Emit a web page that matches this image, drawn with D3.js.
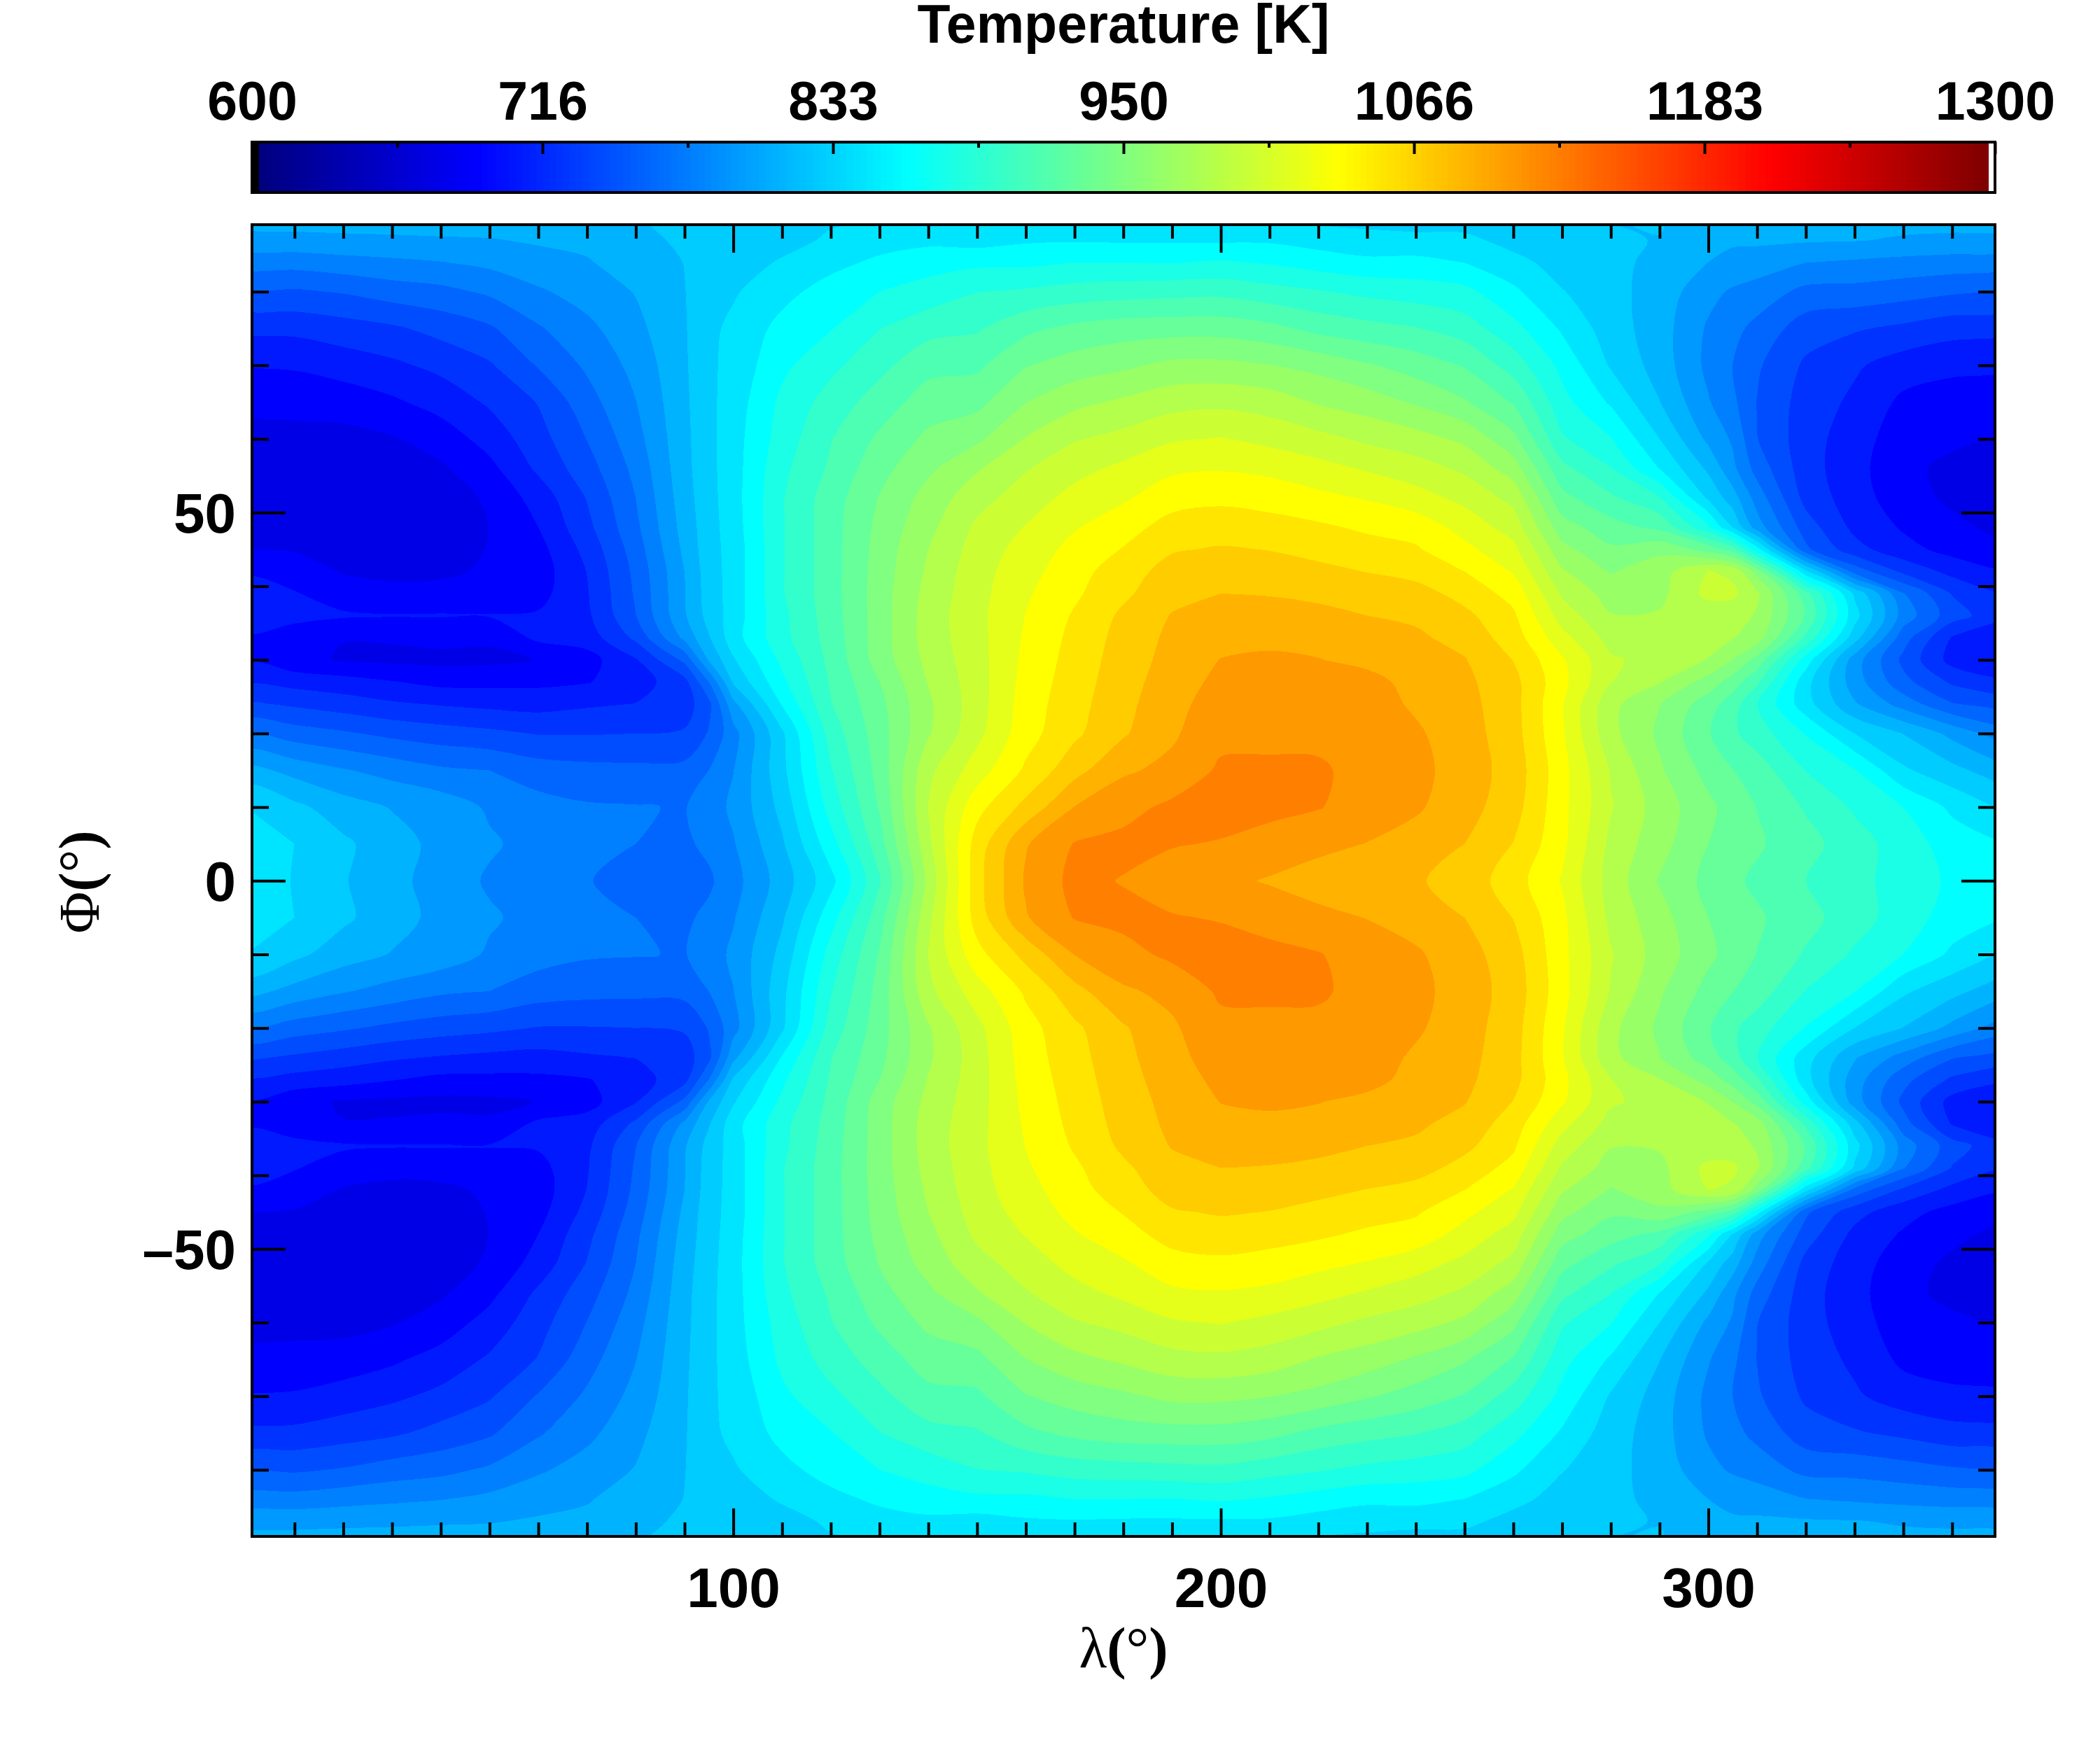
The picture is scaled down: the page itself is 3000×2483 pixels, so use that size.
<!DOCTYPE html>
<html>
<head>
<meta charset="utf-8">
<script src="https://cdnjs.cloudflare.com/ajax/libs/d3/7.8.5/d3.min.js"></script>
<style>
html, body { margin: 0; padding: 0; background: #fff; }
svg { display: block; }
text { font-family: "Liberation Sans", Arial, sans-serif; font-weight: bold; fill: #000; }
.greek { font-family: "Liberation Serif", serif; font-weight: normal; }
.greek .paren { font-weight: bold; }
</style>
</head>
<body>
<div id="chart"></div>
<script>
// latitude rows of the north half (the map is mirrored about the equator)
var lats = [0,5,10,15,20,24,27,30,33,36,39,42,45,48,52,56,60,65,70,75,80,84,87,90];
var lons = [0,10,20,30,40,50,60,70,80,90,95,100,110,120,130,140,150,160,170,180,190,200,210,220,230,240,250,260,270,280,290,300,305,310,320,330,340,350,360];

// temperature in K, one list per longitude, in the order of lats
var t000 = [856,853,845,817,774,743,720,704,702,720,713,703,688,680,677,677,682,691,706,726,755,783,803,818];
var t010 = [844,845,832,804,766,737,716,692,694,711,706,698,686,680,677,677,682,693,707,727,755,782,805,818];
var t020 = [829,831,818,794,760,731,712,686,688,707,698,686,678,672,672,675,682,695,713,732,759,786,806,819];
var t030 = [815,817,809,786,753,725,706,684,689,706,694,682,674,670,672,677,686,702,719,737,766,789,807,819];
var t040 = [803,805,803,778,748,721,700,683,692,706,696,683,675,672,676,685,695,712,727,746,770,792,808,820];
var t050 = [790,795,790,775,744,718,700,684,690,706,695,691,689,688,691,700,712,725,738,755,778,797,809,820];
var t060 = [783,786,782,766,739,716,701,688,709,707,699,696,699,705,712,726,733,741,759,773,790,804,812,822];
var t070 = [776,778,777,763,739,720,704,698,713,719,721,723,728,735,741,750,758,768,778,788,800,809,813,824];
var t080 = [768,775,776,762,740,723,714,721,744,757,760,762,766,771,775,780,786,792,798,805,811,816,820,826];
var t090 = [769,772,774,763,742,731,734,762,797,808,809,810,814,817,820,822,823,824,825,826,827,828,832,834];
var t095 = [772,779,784,775,759,753,775,812,826,834,836,837,838,838,839,840,840,841,842,841,838,834,834,838];
var t100 = [786,791,796,792,786,805,830,843,855,853,852,852,852,854,855,855,855,853,850,849,843,836,835,839];
var t110 = [818,825,833,840,842,864,876,884,892,893,896,896,896,896,896,893,888,884,876,868,857,847,838,838];
var t120 = [857,873,887,896,905,914,917,920,922,924,925,925,925,925,924,918,914,905,893,879,870,857,848,842];
var t130 = [913,925,934,939,942,945,950,958,959,959,959,958,957,955,951,944,936,923,910,897,880,866,855,845];
var t140 = [990,998,1003,998,983,982,986,990,993,993,991,988,985,980,974,964,954,941,927,909,887,873,858,845];
var t150 = [1066,1063,1049,1029,1015,1012,1012,1013,1014,1015,1014,1013,1010,1006,996,983,964,945,929,913,897,876,855,843];
var t160 = [1110,1106,1078,1058,1048,1046,1044,1042,1040,1038,1035,1031,1027,1021,1011,1001,986,967,949,928,900,876,860,843];
var t170 = [1130,1126,1108,1084,1069,1066,1064,1062,1060,1057,1052,1048,1043,1036,1026,1014,1001,980,958,937,905,880,861,843];
var t180 = [1124,1130,1119,1105,1088,1085,1083,1081,1079,1076,1069,1065,1056,1048,1035,1024,1008,988,964,942,907,880,860,843];
var t190 = [1118,1126,1129,1112,1105,1102,1099,1096,1094,1091,1085,1079,1071,1062,1048,1034,1018,996,972,943,909,879,860,845];
var t200 = [1112,1124,1131,1128,1120,1116,1112,1108,1102,1097,1090,1082,1074,1065,1051,1036,1021,998,972,943,910,882,860,845];
var t210 = [1106,1118,1130,1128,1121,1117,1113,1110,1104,1097,1089,1080,1072,1062,1048,1033,1015,994,968,938,904,878,860,845];
var t220 = [1100,1112,1126,1128,1120,1118,1115,1108,1103,1095,1086,1077,1067,1058,1042,1026,1008,983,962,927,899,872,855,840];
var t230 = [1096,1107,1117,1118,1118,1115,1112,1104,1098,1090,1082,1072,1062,1052,1036,1018,999,976,952,921,893,867,850,840];
var t240 = [1092,1100,1110,1113,1110,1105,1103,1098,1093,1087,1080,1066,1057,1048,1027,1010,992,965,942,916,889,868,849,838];
var t250 = [1083,1090,1097,1099,1098,1096,1094,1091,1084,1077,1066,1055,1042,1031,1015,999,981,952,931,906,885,862,850,835];
var t260 = [1063,1072,1080,1083,1080,1079,1078,1072,1064,1058,1049,1036,1025,1012,997,976,955,931,907,886,866,851,838,832];
var t270 = [1036,1042,1043,1044,1040,1039,1043,1040,1026,1012,1000,987,973,958,938,920,900,886,875,860,846,837,831,828];
var t280 = [995,998,1004,1001,990,990,1003,1005,996,986,978,966,953,940,918,898,881,860,843,836,833,831,829,827];
var t290 = [966,974,977,970,964,968,986,996,990,987,980,978,963,928,899,862,845,828,820,818,820,824,827,829];
var t300 = [945,950,954,944,934,941,960,984,992,990,1008,1003,943,884,842,824,806,794,788,790,798,810,813,815];
var t305 = [936,939,943,933,918,923,942,967,986,993,1006,999,925,844,818,797,790,779,775,780,790,806,812,813];
var t310 = [929,935,932,924,906,898,918,944,976,983,988,960,870,801,785,768,758,757,760,770,785,802,813,812];
var t320 = [915,921,913,897,879,852,851,872,911,931,922,850,761,749,734,730,730,732,737,748,770,793,812,810];
var t330 = [903,905,895,881,845,812,801,801,835,852,842,768,729,718,713,711,713,719,725,742,769,790,811,815];
var t340 = [890,889,880,848,827,785,763,753,765,785,776,736,711,703,695,692,695,701,714,736,765,787,808,817];
var t350 = [877,872,859,833,805,759,737,716,721,748,739,717,699,692,684,683,691,697,709,729,760,785,806,818];
var t360 = [866,864,843,817,783,749,725,707,705,728,723,706,691,683,678,679,686,695,708,727,757,783,805,818];

var byLon = [t000,t010,t020,t030,t040,t050,t060,t070,t080,t090,t095,t100,t110,t120,t130,t140,t150,t160,t170,t180,t190,t200,t210,t220,t230,t240,t250,t260,t270,t280,t290,t300,t305,t310,t320,t330,t340,t350,t360];

var colorbarLabels = ["600","716","833","950","1066","1183","1300"];
var tempMin = 600, tempMax = 1300, nLevels = 40;

var width = 3000, height = 2483;
var plot = {left: 360, right: 2850, top: 321, bottom: 2195};
var bar = {top: 203, bottom: 275, colorLeft: 370, colorRight: 2840};

var svg = d3.select("#chart").append("svg")
    .attr("width", width)
    .attr("height", height);

var x = d3.scaleLinear().domain([100, 300]).range([1047.6, 2440.5]);
var y = d3.scaleLinear().domain([50, 0]).range([732.3, 1258.3]);

var jet = d3.scaleLinear()
    .domain([0, 0.125, 0.375, 0.625, 0.875, 1])
    .range(["#000080", "#0000ff", "#00ffff", "#ffff00", "#ff0000", "#800000"]);

// whole globe grid, south pole first
var allLats = lats.slice(1).reverse().map(function (d) { return -d; }).concat(lats);
var nx = lons.length, ny = allLats.length;
var values = [];
allLats.forEach(function (lat) {
    var row = lats.indexOf(Math.abs(lat));
    byLon.forEach(function (col) { values.push(col[row]); });
});

// d3.contours puts cell i at i+0.5, the grid is not even so go through a scale
var lonAt = d3.scaleLinear().domain(lons.map(function (d, i) { return i + 0.5; })).range(lons);
var latAt = d3.scaleLinear().domain(allLats.map(function (d, i) { return i + 0.5; })).range(allLats);
var ringLine = d3.line()
    .x(function (p) { return x(lonAt(p[0])); })
    .y(function (p) { return y(latAt(p[1])); })
    .curve(d3.curveCatmullRomClosed.alpha(0.5));

function contourPath(d) {
    return d.coordinates.map(function (polygon) {
        return polygon.map(function (ring) { return ringLine(ring.slice(0, -1)); }).join("");
    }).join("");
}

var step = (tempMax - tempMin) / nLevels;
var levels = d3.range(nLevels).map(function (i) { return tempMin + i * step; });
var contours = d3.contours().size([nx, ny]).thresholds(levels)(values);

svg.append("clipPath").attr("id", "plot-clip")
    .append("rect")
    .attr("x", plot.left).attr("y", plot.top)
    .attr("width", plot.right - plot.left).attr("height", plot.bottom - plot.top);

svg.append("g")
    .attr("clip-path", "url(#plot-clip)")
    .selectAll("path")
    .data(contours)
    .enter()
    .append("path")
    .attr("d", contourPath)
    .attr("fill", function (d, i) { return jet(i / nLevels); })
    .attr("fill-rule", "evenodd")
    .attr("shape-rendering", "crispEdges");

// colour bar
var barX = d3.scaleLinear().domain([0, 1]).range([bar.colorLeft, bar.colorRight]);
svg.append("g")
    .selectAll("rect")
    .data(d3.range(256))
    .enter()
    .append("rect")
    .attr("x", function (d) { return barX(d / 256); })
    .attr("y", bar.top)
    .attr("width", function (d) { return barX((d + 1) / 256) - barX(d / 256) + 0.5; })
    .attr("height", bar.bottom - bar.top)
    .attr("fill", function (d) { return jet(d / 255); })
    .attr("shape-rendering", "crispEdges");

svg.append("rect")
    .attr("x", plot.left).attr("y", bar.top)
    .attr("width", bar.colorLeft - plot.left).attr("height", bar.bottom - bar.top)
    .attr("fill", "#000");

var barScale = d3.scaleLinear().domain([tempMin, tempMax]).range([plot.left, plot.right]);
var barMajor = colorbarLabels.map(function (d, i) { return tempMin + i * (tempMax - tempMin) / 6; });
var barMinor = d3.range(1, 12, 2).map(function (i) { return tempMin + i * (tempMax - tempMin) / 12; });

function plainAxis(g, axis) {
    g.call(axis);
    g.select(".domain").remove();
    g.selectAll("line").attr("stroke", "#000").attr("stroke-width", 4);
    g.selectAll("text").attr("font-family", null).attr("fill", null);
    g.attr("font-family", null).attr("font-size", null);
}

svg.append("g").attr("transform", "translate(0," + bar.top + ")")
    .call(plainAxis, d3.axisTop(barScale).tickValues(barMinor).tickSize(-8).tickFormat(""));
var barTop = svg.append("g").attr("transform", "translate(0," + bar.top + ")");
barTop.call(plainAxis, d3.axisTop(barScale).tickValues(barMajor).tickSize(-17).tickPadding(32)
    .tickFormat(function (d, i) { return colorbarLabels[i]; }));
barTop.selectAll("text").style("font-size", "77px").attr("dy", 0);

svg.append("rect")
    .attr("x", plot.left).attr("y", bar.top)
    .attr("width", plot.right - plot.left).attr("height", bar.bottom - bar.top)
    .attr("fill", "none").attr("stroke", "#000").attr("stroke-width", 4);

// map axes, short ticks first and then the labelled ones
var xMinor = d3.range(10, 360, 10).filter(function (d) { return d % 100 !== 0; });
var yMinor = d3.range(-80, 90, 10).filter(function (d) { return d % 50 !== 0; });
var xMajor = [100, 200, 300], yMajor = [-50, 0, 50];

svg.append("g").attr("transform", "translate(0," + plot.top + ")")
    .call(plainAxis, d3.axisTop(x).tickValues(xMinor).tickSize(-20).tickFormat(""));
svg.append("g").attr("transform", "translate(0," + plot.top + ")")
    .call(plainAxis, d3.axisTop(x).tickValues(xMajor).tickSize(-40).tickFormat(""));
svg.append("g").attr("transform", "translate(0," + plot.bottom + ")")
    .call(plainAxis, d3.axisBottom(x).tickValues(xMinor).tickSize(-20).tickFormat(""));
var xAxis = svg.append("g").attr("transform", "translate(0," + plot.bottom + ")");
xAxis.call(plainAxis, d3.axisBottom(x).tickValues(xMajor).tickSize(-40).tickPadding(44));
xAxis.selectAll("text").style("font-size", "80px");

svg.append("g").attr("transform", "translate(" + plot.right + ",0)")
    .call(plainAxis, d3.axisRight(y).tickValues(yMinor).tickSize(-24).tickFormat(""));
svg.append("g").attr("transform", "translate(" + plot.right + ",0)")
    .call(plainAxis, d3.axisRight(y).tickValues(yMajor).tickSize(-48).tickFormat(""));
svg.append("g").attr("transform", "translate(" + plot.left + ",0)")
    .call(plainAxis, d3.axisLeft(y).tickValues(yMinor).tickSize(-24).tickFormat(""));
var yAxis = svg.append("g").attr("transform", "translate(" + plot.left + ",0)");
yAxis.call(plainAxis, d3.axisLeft(y).tickValues(yMajor).tickSize(-48).tickPadding(23)
    .tickFormat(function (d) { return d < 0 ? "\u2013" + (-d) : d; }));
yAxis.selectAll("text").style("font-size", "80px").attr("dy", "0.35em");

svg.append("rect")
    .attr("x", plot.left).attr("y", plot.top)
    .attr("width", plot.right - plot.left).attr("height", plot.bottom - plot.top)
    .attr("fill", "none").attr("stroke", "#000").attr("stroke-width", 4);

svg.append("text")
    .attr("x", 1605).attr("y", 61)
    .attr("text-anchor", "middle")
    .style("font-size", "77px")
    .text("Temperature [K]");

function greekLabel(sel, letter) {
    sel.append("tspan").text(letter);
    sel.append("tspan").attr("class", "paren").text("(");
    sel.append("tspan").text("\u00b0");
    sel.append("tspan").attr("class", "paren").text(")");
}

svg.append("text")
    .attr("class", "greek")
    .attr("x", 1605).attr("y", 2382)
    .attr("text-anchor", "middle")
    .style("font-size", "82px")
    .call(greekLabel, "\u03bb");

svg.append("text")
    .attr("class", "greek")
    .attr("transform", "translate(141,1260) rotate(-90)")
    .attr("text-anchor", "middle")
    .style("font-size", "82px")
    .call(greekLabel, "\u03a6");
</script>
</body>
</html>
